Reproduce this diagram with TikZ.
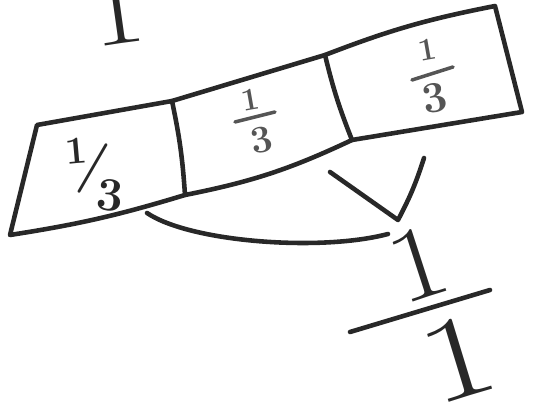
\documentclass[tikz,border=0pt]{standalone}
\usepackage{fontspec}
\usepackage{tikz}
\usetikzlibrary{positioning, calc}
\definecolor{crayon}{RGB}{40,40,40}
\definecolor{mine}{RGB}{85,85,85}

\begin{document}
\begin{tikzpicture}[x=0.2mm, y=-0.2mm, line cap=round, line join=round,
    trait/.style={draw=crayon, line width=2.6pt},
    fin/.style={draw=mine, line width=2pt},
    chiffre/.style={text=crayon, inner sep=0pt},
    gris/.style={text=mine, inner sep=0pt}]
  \useasboundingbox (0,0) rectangle (539,414);

  % le tout
  \node[chiffre, font=\fontsize{52}{52}\selectfont, rotate=8, xscale=1.3, anchor=base] (un) at (121,44) {1};

  % bande en trois
  \coordinate (hg) at (37,125);
  \coordinate (d1h) at (172,101);
  \coordinate (d2h) at (325,55);
  \coordinate (hd) at (495,6);
  \coordinate (bd) at (522,112);
  \coordinate (d2b) at (352,140);
  \coordinate (d1b) at (185,195);
  \coordinate (bg) at (10,235);

  \draw[trait] (hg) -- (d1h) -- (d2h) to[bend left=5] (hd)
    -- (bd) -- (d2b) to[bend left=7] (d1b) to[bend left=4] (bg) -- (hg) -- cycle;
  \draw[trait] (d1h) to[bend left=4] (d1b);
  \draw[trait] (d2h) to[bend right=4] (d2b);

  % 1/3 penche
  \node[chiffre, font=\bfseries\fontsize{22}{22}\selectfont, rotate=5] (n1) at (76,151) {1};
  \node[chiffre, font=\bfseries\fontsize{30}{30}\selectfont, rotate=-8] (s1) at (93,169) {/};
  \node[chiffre, font=\bfseries\fontsize{27}{27}\selectfont, rotate=-5] (d1) at (110,195) {3};

  % 1/3 du milieu
  \node[gris, font=\bfseries\fontsize{18}{18}\selectfont, rotate=10] (n2) at (250,100) {1};
  \coordinate (b2g) at (235,122);
  \coordinate (b2d) at (275,112);
  \draw[fin] (b2g) -- (b2d);
  \node[gris, font=\bfseries\fontsize{22}{22}\selectfont, rotate=12] (d2) at (262,140) {3};

  % 1/3 de droite
  \node[gris, font=\bfseries\fontsize{18}{18}\selectfont, rotate=10] (n3) at (427,50) {1};
  \coordinate (b3g) at (412,80);
  \coordinate (b3d) at (453,67);
  \draw[fin] (b3g) -- (b3d);
  \node[gris, font=\bfseries\fontsize{25}{25}\selectfont, rotate=12] (d3) at (435,98) {3};

  % 1/1
  \node[chiffre, font=\fontsize{60}{60}\selectfont, rotate=18, xscale=1.15] (nh) at (418,264) {1};
  \coordinate (bh) at (350,332);
  \coordinate (bb) at (490,290);
  \draw[trait] (bh) -- (bb);
  \node[chiffre, font=\fontsize{68}{68}\selectfont, rotate=17, xscale=1.3] (nb) at (458,358) {1};

  % traits de rassemblement
  \coordinate (arcg) at (147,213);
  \coordinate (arcd) at (388,234);
  \draw[trait] (arcg) .. controls (190,242) and (320,252) .. (arcd);
  \coordinate (vg) at (330,172);
  \coordinate (vp) at (398,220);
  \coordinate (vd) at (424,158);
  \draw[trait] (vg) -- (vp) to[bend right=5] (vd);
\end{tikzpicture}
\end{document}
